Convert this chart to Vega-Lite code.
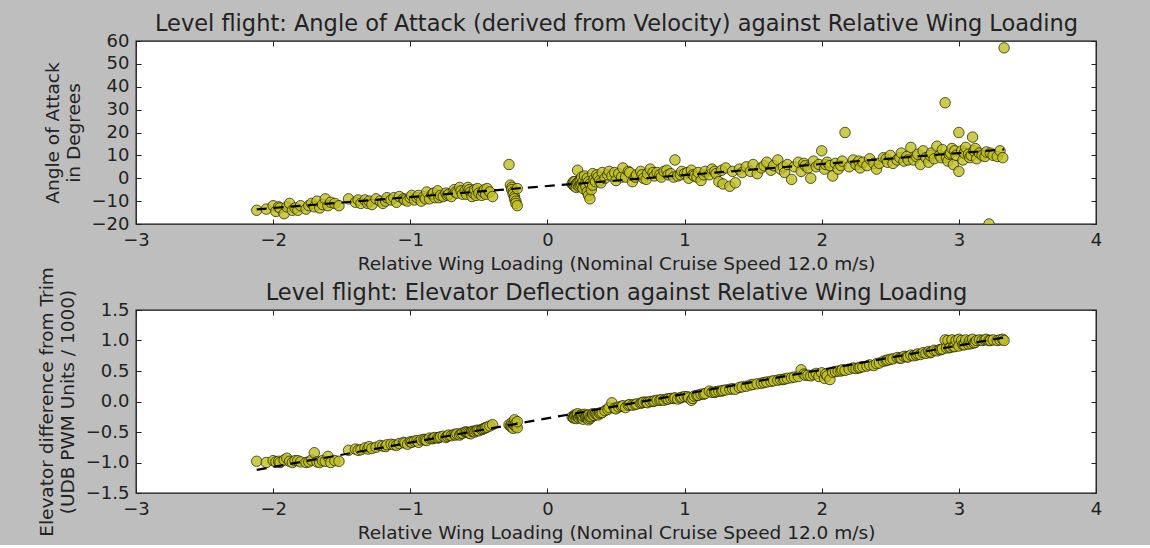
{
  "$schema": "https://vega.github.io/schema/vega-lite/v6.json",
  "background": "#bebebe",
  "padding": {"left": 37, "top": 11, "right": 53, "bottom": 2},
  "spacing": 86,
  "bounds": "flush",
  "config": {
    "font": "DejaVu Sans",
    "view": {"stroke": "#111", "strokeWidth": 1.3, "fill": "white"},
    "axis": {
      "grid": false, "domain": false, "tickColor": "#222", "tickSize": -5, "tickWidth": 1,
      "labelPadding": 12, "labelFont": "DejaVu Sans", "labelFontSize": 18, "labelColor": "#222", "labelFlush": false,
      "titleFont": "DejaVu Sans", "titleFontSize": 18.5, "titleFontWeight": "normal", "titleColor": "#222"
    }
  },
  "datasets": {
    "pts": [
      {"x": -2.12, "aoa": -14, "elev": -0.98},
      {"x": -2.05, "aoa": -13.5, "elev": -1.0},
      {"x": -2.0, "aoa": -12, "elev": -0.97},
      {"x": -1.98, "aoa": -14.5, "elev": -0.99},
      {"x": -1.96, "aoa": -12.5, "elev": -0.98},
      {"x": -1.95, "aoa": -13, "elev": -1.0},
      {"x": -1.92, "aoa": -15.5, "elev": -0.96},
      {"x": -1.9, "aoa": -12.5, "elev": -0.93},
      {"x": -1.88, "aoa": -11, "elev": -0.98},
      {"x": -1.86, "aoa": -14, "elev": -1.0},
      {"x": -1.84, "aoa": -13, "elev": -0.97},
      {"x": -1.82, "aoa": -14, "elev": -0.97},
      {"x": -1.8, "aoa": -12, "elev": -0.99},
      {"x": -1.76, "aoa": -13.5, "elev": -1.0},
      {"x": -1.74, "aoa": -12, "elev": -0.99},
      {"x": -1.72, "aoa": -11, "elev": -0.96},
      {"x": -1.7, "aoa": -12.5, "elev": -0.84},
      {"x": -1.68, "aoa": -10, "elev": -0.99},
      {"x": -1.66, "aoa": -13, "elev": -1.0},
      {"x": -1.64, "aoa": -11.5, "elev": -0.97},
      {"x": -1.62, "aoa": -9, "elev": -0.98},
      {"x": -1.6, "aoa": -12, "elev": -0.9},
      {"x": -1.58, "aoa": -10.5, "elev": -1.0},
      {"x": -1.55, "aoa": -11, "elev": -0.97},
      {"x": -1.52, "aoa": -12, "elev": -0.98},
      {"x": -1.45, "aoa": -9, "elev": -0.8},
      {"x": -1.4, "aoa": -10.5, "elev": -0.78},
      {"x": -1.38, "aoa": -9.5, "elev": -0.8},
      {"x": -1.36, "aoa": -11, "elev": -0.79},
      {"x": -1.33, "aoa": -9.5, "elev": -0.76},
      {"x": -1.31, "aoa": -11, "elev": -0.78},
      {"x": -1.3, "aoa": -10, "elev": -0.74},
      {"x": -1.28, "aoa": -11.5, "elev": -0.77},
      {"x": -1.25, "aoa": -9, "elev": -0.75},
      {"x": -1.22, "aoa": -10, "elev": -0.72},
      {"x": -1.2, "aoa": -11, "elev": -0.73},
      {"x": -1.18, "aoa": -10, "elev": -0.74},
      {"x": -1.17, "aoa": -8.5, "elev": -0.71},
      {"x": -1.14, "aoa": -9.5, "elev": -0.7},
      {"x": -1.12, "aoa": -8.5, "elev": -0.71},
      {"x": -1.1, "aoa": -10.5, "elev": -0.72},
      {"x": -1.08, "aoa": -8, "elev": -0.69},
      {"x": -1.05, "aoa": -9, "elev": -0.67},
      {"x": -1.04, "aoa": -9.5, "elev": -0.68},
      {"x": -1.02, "aoa": -10, "elev": -0.7},
      {"x": -1.0, "aoa": -8.5, "elev": -0.66},
      {"x": -0.99, "aoa": -7.5, "elev": -0.67},
      {"x": -0.97, "aoa": -9.5, "elev": -0.65},
      {"x": -0.95, "aoa": -8.5, "elev": -0.64},
      {"x": -0.94, "aoa": -7.5, "elev": -0.67},
      {"x": -0.92, "aoa": -10, "elev": -0.63},
      {"x": -0.9, "aoa": -8, "elev": -0.62},
      {"x": -0.89, "aoa": -9, "elev": -0.63},
      {"x": -0.88, "aoa": -6, "elev": -0.64},
      {"x": -0.86, "aoa": -9, "elev": -0.6},
      {"x": -0.84, "aoa": -7, "elev": -0.61},
      {"x": -0.83, "aoa": -6.5, "elev": -0.6},
      {"x": -0.82, "aoa": -8.5, "elev": -0.59},
      {"x": -0.8, "aoa": -5.5, "elev": -0.6},
      {"x": -0.79, "aoa": -8.5, "elev": -0.59},
      {"x": -0.78, "aoa": -7.5, "elev": -0.58},
      {"x": -0.76, "aoa": -8, "elev": -0.57},
      {"x": -0.74, "aoa": -6.5, "elev": -0.59},
      {"x": -0.73, "aoa": -7.5, "elev": -0.57},
      {"x": -0.72, "aoa": -7, "elev": -0.55},
      {"x": -0.7, "aoa": -8, "elev": -0.56},
      {"x": -0.68, "aoa": -5, "elev": -0.54},
      {"x": -0.67, "aoa": -6, "elev": -0.55},
      {"x": -0.66, "aoa": -6.5, "elev": -0.53},
      {"x": -0.64, "aoa": -4, "elev": -0.55},
      {"x": -0.63, "aoa": -5.5, "elev": -0.53},
      {"x": -0.62, "aoa": -7, "elev": -0.52},
      {"x": -0.6, "aoa": -5.5, "elev": -0.5},
      {"x": -0.59, "aoa": -7, "elev": -0.5},
      {"x": -0.58, "aoa": -4, "elev": -0.51},
      {"x": -0.57, "aoa": -5, "elev": -0.52},
      {"x": -0.56, "aoa": -6, "elev": -0.53},
      {"x": -0.55, "aoa": -8, "elev": -0.49},
      {"x": -0.54, "aoa": -6.5, "elev": -0.49},
      {"x": -0.53, "aoa": -5, "elev": -0.5},
      {"x": -0.52, "aoa": -7.5, "elev": -0.48},
      {"x": -0.51, "aoa": -4.5, "elev": -0.47},
      {"x": -0.5, "aoa": -6.5, "elev": -0.48},
      {"x": -0.48, "aoa": -7.5, "elev": -0.46},
      {"x": -0.47, "aoa": -6, "elev": -0.45},
      {"x": -0.46, "aoa": -5, "elev": -0.44},
      {"x": -0.45, "aoa": -7, "elev": -0.43},
      {"x": -0.44, "aoa": -4.5, "elev": -0.42},
      {"x": -0.42, "aoa": -6, "elev": -0.4},
      {"x": -0.4, "aoa": -8, "elev": -0.38},
      {"x": -0.28, "aoa": 6, "elev": -0.38},
      {"x": -0.27, "aoa": -3, "elev": -0.4},
      {"x": -0.26, "aoa": -4, "elev": -0.35},
      {"x": -0.26, "aoa": -5, "elev": -0.42},
      {"x": -0.25, "aoa": -6, "elev": -0.37},
      {"x": -0.25, "aoa": -7, "elev": -0.44},
      {"x": -0.24, "aoa": -8, "elev": -0.3},
      {"x": -0.24, "aoa": -9, "elev": -0.39},
      {"x": -0.23, "aoa": -10, "elev": -0.41},
      {"x": -0.23, "aoa": -11, "elev": -0.36},
      {"x": -0.22, "aoa": -12, "elev": -0.43},
      {"x": -0.22, "aoa": -4.5, "elev": -0.33},
      {"x": 0.18, "aoa": -2.5, "elev": -0.25},
      {"x": 0.19, "aoa": -3, "elev": -0.27},
      {"x": 0.19, "aoa": -1.5, "elev": -0.26},
      {"x": 0.2, "aoa": -1.5, "elev": -0.22},
      {"x": 0.2, "aoa": -3.5, "elev": -0.24},
      {"x": 0.21, "aoa": -4, "elev": -0.28},
      {"x": 0.21, "aoa": -2.5, "elev": -0.23},
      {"x": 0.22, "aoa": -2, "elev": -0.24},
      {"x": 0.22, "aoa": 3.5, "elev": -0.2},
      {"x": 0.23, "aoa": -3.5, "elev": -0.26},
      {"x": 0.23, "aoa": -1.5, "elev": -0.27},
      {"x": 0.24, "aoa": -1, "elev": -0.23},
      {"x": 0.24, "aoa": -3, "elev": -0.25},
      {"x": 0.25, "aoa": -2.5, "elev": -0.25},
      {"x": 0.25, "aoa": 0.5, "elev": -0.22},
      {"x": 0.26, "aoa": -4.5, "elev": -0.29},
      {"x": 0.26, "aoa": -1.5, "elev": -0.24},
      {"x": 0.27, "aoa": 1, "elev": -0.21},
      {"x": 0.28, "aoa": -2, "elev": -0.24},
      {"x": 0.28, "aoa": -3.5, "elev": -0.26},
      {"x": 0.29, "aoa": -6, "elev": -0.27},
      {"x": 0.29, "aoa": 0, "elev": -0.23},
      {"x": 0.3, "aoa": -7.5, "elev": -0.3},
      {"x": 0.3, "aoa": -1.5, "elev": -0.22},
      {"x": 0.31, "aoa": -9, "elev": -0.28},
      {"x": 0.31, "aoa": -2.5, "elev": -0.25},
      {"x": 0.32, "aoa": -5, "elev": -0.25},
      {"x": 0.33, "aoa": 2, "elev": -0.2},
      {"x": 0.33, "aoa": -3, "elev": -0.22},
      {"x": 0.34, "aoa": -0.5, "elev": -0.23},
      {"x": 0.35, "aoa": -1.5, "elev": -0.2},
      {"x": 0.36, "aoa": 1.5, "elev": -0.21},
      {"x": 0.37, "aoa": 0.5, "elev": -0.22},
      {"x": 0.38, "aoa": -1, "elev": -0.19},
      {"x": 0.39, "aoa": -2, "elev": -0.19},
      {"x": 0.4, "aoa": 2.5, "elev": -0.18},
      {"x": 0.42, "aoa": 0, "elev": -0.15},
      {"x": 0.44, "aoa": 1.5, "elev": -0.13},
      {"x": 0.45, "aoa": 3, "elev": -0.1},
      {"x": 0.47, "aoa": 1, "elev": -0.02},
      {"x": 0.49, "aoa": 2.5, "elev": -0.11},
      {"x": 0.5, "aoa": -1, "elev": -0.12},
      {"x": 0.52, "aoa": 2, "elev": -0.09},
      {"x": 0.54, "aoa": 0.5, "elev": -0.08},
      {"x": 0.55, "aoa": 4.5, "elev": -0.07},
      {"x": 0.57, "aoa": 0.5, "elev": -0.1},
      {"x": 0.59, "aoa": 3, "elev": -0.06},
      {"x": 0.6, "aoa": 2.5, "elev": -0.05},
      {"x": 0.62, "aoa": -1.5, "elev": -0.06},
      {"x": 0.64, "aoa": 0.5, "elev": -0.05},
      {"x": 0.65, "aoa": 1.5, "elev": -0.04},
      {"x": 0.68, "aoa": 3, "elev": -0.03},
      {"x": 0.69, "aoa": 1.5, "elev": -0.02},
      {"x": 0.7, "aoa": 0, "elev": -0.01},
      {"x": 0.72, "aoa": -0.5, "elev": -0.01},
      {"x": 0.73, "aoa": 2, "elev": -0.02},
      {"x": 0.75, "aoa": 4, "elev": 0.0},
      {"x": 0.77, "aoa": 2.5, "elev": 0.0},
      {"x": 0.78, "aoa": 1, "elev": 0.01},
      {"x": 0.8, "aoa": 2.5, "elev": 0.02},
      {"x": 0.82, "aoa": 1.5, "elev": 0.02},
      {"x": 0.83, "aoa": 0.5, "elev": 0.03},
      {"x": 0.85, "aoa": 3, "elev": 0.02},
      {"x": 0.87, "aoa": 3.5, "elev": 0.04},
      {"x": 0.88, "aoa": 1.5, "elev": 0.04},
      {"x": 0.9, "aoa": 2, "elev": 0.05},
      {"x": 0.92, "aoa": 0.5, "elev": 0.05},
      {"x": 0.93, "aoa": 8, "elev": 0.06},
      {"x": 0.95, "aoa": 1, "elev": 0.04},
      {"x": 0.97, "aoa": 1.5, "elev": 0.06},
      {"x": 0.98, "aoa": 3, "elev": 0.07},
      {"x": 1.0, "aoa": 2, "elev": 0.08},
      {"x": 1.02, "aoa": 2.5, "elev": 0.08},
      {"x": 1.03, "aoa": 0, "elev": 0.06},
      {"x": 1.05, "aoa": 3.5, "elev": 0.02},
      {"x": 1.06, "aoa": 1.5, "elev": 0.05},
      {"x": 1.07, "aoa": 1, "elev": 0.09},
      {"x": 1.09, "aoa": 0.5, "elev": 0.1},
      {"x": 1.1, "aoa": 2.5, "elev": 0.1},
      {"x": 1.12, "aoa": -1, "elev": 0.12},
      {"x": 1.14, "aoa": 1.5, "elev": 0.12},
      {"x": 1.15, "aoa": 3, "elev": 0.13},
      {"x": 1.18, "aoa": 1.5, "elev": 0.17},
      {"x": 1.2, "aoa": 4, "elev": 0.15},
      {"x": 1.22, "aoa": 3, "elev": 0.15},
      {"x": 1.23, "aoa": 2, "elev": 0.16},
      {"x": 1.25, "aoa": -1.5, "elev": 0.17},
      {"x": 1.27, "aoa": 3.5, "elev": 0.17},
      {"x": 1.28, "aoa": -2.5, "elev": 0.18},
      {"x": 1.3, "aoa": 4.5, "elev": 0.19},
      {"x": 1.33, "aoa": -3.5, "elev": 0.2},
      {"x": 1.35, "aoa": 3, "elev": 0.21},
      {"x": 1.37, "aoa": -2, "elev": 0.2},
      {"x": 1.4, "aoa": 4, "elev": 0.23},
      {"x": 1.42, "aoa": 2.5, "elev": 0.24},
      {"x": 1.45, "aoa": 5, "elev": 0.25},
      {"x": 1.48, "aoa": 3, "elev": 0.27},
      {"x": 1.5, "aoa": 6, "elev": 0.28},
      {"x": 1.53, "aoa": 2, "elev": 0.29},
      {"x": 1.56, "aoa": 4.5, "elev": 0.3},
      {"x": 1.58, "aoa": 5.5, "elev": 0.31},
      {"x": 1.6, "aoa": 7, "elev": 0.32},
      {"x": 1.63, "aoa": 3.5, "elev": 0.33},
      {"x": 1.65, "aoa": 5.5, "elev": 0.34},
      {"x": 1.68, "aoa": 8, "elev": 0.35},
      {"x": 1.7, "aoa": 4, "elev": 0.36},
      {"x": 1.72, "aoa": 5, "elev": 0.36},
      {"x": 1.73, "aoa": 2.5, "elev": 0.37},
      {"x": 1.75, "aoa": 6, "elev": 0.38},
      {"x": 1.78, "aoa": -0.5, "elev": 0.39},
      {"x": 1.8, "aoa": 5, "elev": 0.4},
      {"x": 1.83, "aoa": 7, "elev": 0.41},
      {"x": 1.85, "aoa": 3, "elev": 0.52},
      {"x": 1.87, "aoa": 6.5, "elev": 0.45},
      {"x": 1.88, "aoa": 5.5, "elev": 0.43},
      {"x": 1.9, "aoa": 4.5, "elev": 0.43},
      {"x": 1.92, "aoa": 0, "elev": 0.42},
      {"x": 1.94, "aoa": 7.5, "elev": 0.44},
      {"x": 1.96, "aoa": 5, "elev": 0.46},
      {"x": 1.98, "aoa": 6, "elev": 0.41},
      {"x": 2.0, "aoa": 12, "elev": 0.47},
      {"x": 2.02, "aoa": 4, "elev": 0.38},
      {"x": 2.03, "aoa": 6, "elev": 0.45},
      {"x": 2.04, "aoa": 7, "elev": 0.42},
      {"x": 2.06, "aoa": 5.5, "elev": 0.36},
      {"x": 2.08, "aoa": 1, "elev": 0.48},
      {"x": 2.1, "aoa": 6.5, "elev": 0.49},
      {"x": 2.12, "aoa": 4, "elev": 0.5},
      {"x": 2.14, "aoa": 5.5, "elev": 0.5},
      {"x": 2.15, "aoa": 7.5, "elev": 0.52},
      {"x": 2.17, "aoa": 20, "elev": 0.51},
      {"x": 2.2, "aoa": 5, "elev": 0.53},
      {"x": 2.23, "aoa": 8, "elev": 0.55},
      {"x": 2.25, "aoa": 6, "elev": 0.54},
      {"x": 2.27, "aoa": 7.5, "elev": 0.55},
      {"x": 2.28, "aoa": 4.5, "elev": 0.56},
      {"x": 2.3, "aoa": 7, "elev": 0.57},
      {"x": 2.33, "aoa": 5.5, "elev": 0.58},
      {"x": 2.35, "aoa": 8.5, "elev": 0.6},
      {"x": 2.38, "aoa": 6.5, "elev": 0.59},
      {"x": 2.4, "aoa": 4, "elev": 0.62},
      {"x": 2.42, "aoa": 6.5, "elev": 0.63},
      {"x": 2.45, "aoa": 9, "elev": 0.66},
      {"x": 2.47, "aoa": 8.5, "elev": 0.67},
      {"x": 2.48, "aoa": 7, "elev": 0.68},
      {"x": 2.5, "aoa": 10, "elev": 0.69},
      {"x": 2.52, "aoa": 6.5, "elev": 0.7},
      {"x": 2.55, "aoa": 8, "elev": 0.72},
      {"x": 2.57, "aoa": 9, "elev": 0.71},
      {"x": 2.58, "aoa": 11, "elev": 0.71},
      {"x": 2.6, "aoa": 7.5, "elev": 0.74},
      {"x": 2.62, "aoa": 9.5, "elev": 0.73},
      {"x": 2.63, "aoa": 8, "elev": 0.73},
      {"x": 2.65, "aoa": 13.5, "elev": 0.76},
      {"x": 2.67, "aoa": 8, "elev": 0.75},
      {"x": 2.69, "aoa": 9.5, "elev": 0.76},
      {"x": 2.7, "aoa": 10.5, "elev": 0.78},
      {"x": 2.72, "aoa": 6, "elev": 0.77},
      {"x": 2.74, "aoa": 12, "elev": 0.8},
      {"x": 2.76, "aoa": 9, "elev": 0.79},
      {"x": 2.78, "aoa": 7, "elev": 0.82},
      {"x": 2.79, "aoa": 10, "elev": 0.8},
      {"x": 2.8, "aoa": 11, "elev": 0.81},
      {"x": 2.82, "aoa": 8.5, "elev": 0.84},
      {"x": 2.84, "aoa": 14, "elev": 0.83},
      {"x": 2.86, "aoa": 10, "elev": 0.85},
      {"x": 2.87, "aoa": 9, "elev": 0.85},
      {"x": 2.88, "aoa": 12.5, "elev": 0.86},
      {"x": 2.9, "aoa": 33, "elev": 1.01},
      {"x": 2.91, "aoa": 9, "elev": 0.88},
      {"x": 2.92, "aoa": 7.5, "elev": 1.0},
      {"x": 2.93, "aoa": 10.5, "elev": 0.88},
      {"x": 2.94, "aoa": 11, "elev": 0.89},
      {"x": 2.95, "aoa": 13, "elev": 1.01},
      {"x": 2.96, "aoa": 6, "elev": 0.9},
      {"x": 2.97, "aoa": 12, "elev": 0.9},
      {"x": 2.98, "aoa": 10, "elev": 1.0},
      {"x": 3.0, "aoa": 20, "elev": 1.02},
      {"x": 3.0, "aoa": 3, "elev": 0.91},
      {"x": 3.02, "aoa": 12, "elev": 1.0},
      {"x": 3.03, "aoa": 8, "elev": 0.93},
      {"x": 3.04, "aoa": 11, "elev": 0.93},
      {"x": 3.05, "aoa": 13.5, "elev": 1.01},
      {"x": 3.07, "aoa": 10.5, "elev": 0.94},
      {"x": 3.08, "aoa": 9, "elev": 1.0},
      {"x": 3.09, "aoa": 10, "elev": 0.95},
      {"x": 3.1, "aoa": 18, "elev": 1.02},
      {"x": 3.11, "aoa": 12, "elev": 0.96},
      {"x": 3.12, "aoa": 13, "elev": 0.97},
      {"x": 3.13, "aoa": 8.5, "elev": 1.0},
      {"x": 3.15, "aoa": 11, "elev": 1.01},
      {"x": 3.17, "aoa": 10, "elev": 1.0},
      {"x": 3.19, "aoa": 9.5, "elev": 1.01},
      {"x": 3.2, "aoa": 11.5, "elev": 1.02},
      {"x": 3.22, "aoa": -20, "elev": 1.0},
      {"x": 3.23, "aoa": 11, "elev": 1.0},
      {"x": 3.25, "aoa": 10, "elev": 1.01},
      {"x": 3.28, "aoa": 9.5, "elev": 1.0},
      {"x": 3.3, "aoa": 12, "elev": 1.01},
      {"x": 3.32, "aoa": 9, "elev": 1.02},
      {"x": 3.33, "aoa": 57, "elev": 1.0}
    ],
    "fit": [
      {"x": -2.12, "aoa": -13.6, "elev": -1.12},
      {"x": 3.33, "aoa": 12.6, "elev": 1.05}
    ]
  },
  "vconcat": [
    {
      "width": 960,
      "height": 183,
      "resolve": {"axis": {"x": "independent", "y": "independent"}},
      "layer": [
        {
          "data": {"name": "pts"},
          "mark": {"type": "point", "shape": "circle", "filled": true, "size": 110, "fill": "#bfbf1f", "fillOpacity": 0.8, "stroke": "#1a1a00", "strokeWidth": 0.9, "strokeOpacity": 0.8, "clip": true},
          "encoding": {
            "x": {"field": "x", "type": "quantitative", "scale": {"domain": [-3, 4], "nice": false, "zero": false},
                  "axis": {"orient": "bottom", "values": [-3, -2, -1, 0, 1, 2, 3, 4], "title": "Relative Wing Loading (Nominal Cruise Speed 12.0 m/s)", "titlePadding": 5}},
            "y": {"field": "aoa", "type": "quantitative", "scale": {"domain": [-20, 60], "nice": false, "zero": false},
                  "axis": {"orient": "left", "values": [-20, -10, 0, 10, 20, 30, 40, 50, 60], "title": ["Angle of Attack", "in Degrees"], "titlePadding": 8}}
          }
        },
        {
          "data": {"name": "fit"},
          "mark": {"type": "line", "color": "#000", "strokeWidth": 2.2, "strokeDash": [10, 7]},
          "encoding": {
            "x": {"field": "x", "type": "quantitative", "axis": {"orient": "top", "values": [-3, -2, -1, 0, 1, 2, 3, 4], "labels": false, "title": "Level flight: Angle of Attack (derived from Velocity) against Relative Wing Loading", "titleFontSize": 22.5, "titlePadding": 5}},
            "y": {"field": "aoa", "type": "quantitative", "axis": {"orient": "right", "values": [-20, -10, 0, 10, 20, 30, 40, 50, 60], "labels": false, "title": null}}
          }
        }
      ]
    },
    {
      "width": 960,
      "height": 183,
      "resolve": {"axis": {"x": "independent", "y": "independent"}},
      "layer": [
        {
          "data": {"name": "pts"},
          "mark": {"type": "point", "shape": "circle", "filled": true, "size": 110, "fill": "#bfbf1f", "fillOpacity": 0.8, "stroke": "#1a1a00", "strokeWidth": 0.9, "strokeOpacity": 0.8, "clip": true},
          "encoding": {
            "x": {"field": "x", "type": "quantitative", "scale": {"domain": [-3, 4], "nice": false, "zero": false},
                  "axis": {"orient": "bottom", "values": [-3, -2, -1, 0, 1, 2, 3, 4], "title": "Relative Wing Loading (Nominal Cruise Speed 12.0 m/s)", "titlePadding": 5}},
            "y": {"field": "elev", "type": "quantitative", "scale": {"domain": [-1.5, 1.5], "nice": false, "zero": false},
                  "axis": {"orient": "left", "values": [-1.5, -1, -0.5, 0, 0.5, 1, 1.5], "format": ".1f", "title": ["Elevator difference from Trim", "(UDB PWM Units / 1000)"], "titlePadding": 8}}
          }
        },
        {
          "data": {"name": "fit"},
          "mark": {"type": "line", "color": "#000", "strokeWidth": 2.2, "strokeDash": [10, 7]},
          "encoding": {
            "x": {"field": "x", "type": "quantitative", "axis": {"orient": "top", "values": [-3, -2, -1, 0, 1, 2, 3, 4], "labels": false, "title": "Level flight: Elevator Deflection against Relative Wing Loading", "titleFontSize": 22.5, "titlePadding": 5}},
            "y": {"field": "elev", "type": "quantitative", "axis": {"orient": "right", "values": [-1.5, -1, -0.5, 0, 0.5, 1, 1.5], "labels": false, "title": null}}
          }
        }
      ]
    }
  ]
}
